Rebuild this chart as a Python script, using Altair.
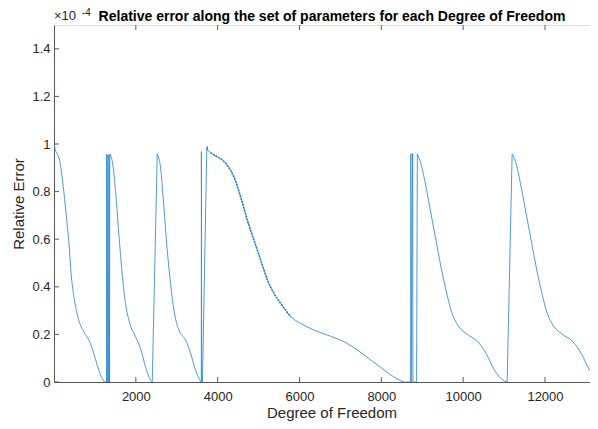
import altair as alt
import pandas as pd

# ---- data (relative error in units of 1e-4) ----
# smooth decaying branches
seg1_dof = [1, 15, 30, 60, 115, 160, 198, 240, 279, 320, 360, 418, 500, 605, 727, 891, 972, 1094, 1201, 1241]
seg1_err = [0.975, 0.99, 0.975, 0.965, 0.945, 0.91, 0.861, 0.80, 0.735, 0.665, 0.595, 0.456, 0.344, 0.26, 0.211, 0.162, 0.12, 0.05, 0.008, 0.0]

seg2_dof = [1364, 1421, 1503, 1584, 1666, 1748, 1853, 1993, 2115, 2237, 2360, 2401]
seg2_err = [0.958, 0.93, 0.805, 0.623, 0.456, 0.33, 0.246, 0.19, 0.141, 0.064, 0.008, 0.0]

seg3_dof = [2523, 2605, 2686, 2768, 2849, 2931, 3053, 3217, 3339, 3461, 3567, 3600]
seg3_err = [0.958, 0.90, 0.735, 0.553, 0.414, 0.302, 0.218, 0.176, 0.12, 0.05, 0.008, 0.0]

seg4_dof = [3760, 3829, 3950, 4073, 4237, 4399, 4563, 4727, 4889, 5053, 5217, 5378, 5542, 5787,
            6032, 6357, 6686, 7092, 7420, 7745, 8071, 8316, 8480, 8560]
seg4_err = [0.972, 0.963, 0.95, 0.938, 0.91, 0.861, 0.777, 0.679, 0.595, 0.512, 0.428, 0.372, 0.33, 0.274,
            0.246, 0.218, 0.197, 0.169, 0.134, 0.092, 0.05, 0.02, 0.005, 0.0]

seg5_dof = [8880, 8969, 9092, 9214, 9336, 9459, 9581, 9703, 9868, 10071, 10357, 10561, 10764, 10969, 11075]
seg5_err = [0.958, 0.917, 0.819, 0.707, 0.595, 0.483, 0.386, 0.302, 0.239, 0.204, 0.169, 0.12, 0.05, 0.008, 0.0]

seg6_dof = [11197, 11295, 11417, 11540, 11662, 11784, 11907, 12029, 12193, 12397, 12683, 12886, 13089, 13295, 13327]
seg6_err = [0.958, 0.917, 0.819, 0.707, 0.595, 0.483, 0.386, 0.302, 0.239, 0.204, 0.169, 0.12, 0.05, 0.016, 0.012]

# jumps between branches
jump1_dof = [1241, 1283, 1285, 1300, 1318, 1330, 1348, 1358, 1364]
jump1_err = [0.0, 0.0, 0.958, 0.0, 0.955, 0.0, 0.955, 0.0, 0.958]
jump2_dof = [2401, 2523]
jump2_err = [0.0, 0.958]
jump3_dof = [3600, 3603, 3610, 3628, 3735, 3742, 3748, 3760]
jump3_err = [0.0, 0.968, 0.0, 0.0, 0.985, 0.975, 0.99, 0.972]
jump4_dof = [8560, 8720, 8722, 8728, 8766, 8772, 8862, 8880]
jump4_err = [0.0, 0.0, 0.96, 0.0, 0.96, 0.0, 0.0, 0.958]
jump5_dof = [11075, 11197]
jump5_err = [0.0, 0.958]

x_ticks = [2000, 4000, 6000, 8000, 10000, 12000]
y_ticks = [0, 0.2, 0.4, 0.6, 0.8, 1.0, 1.2, 1.4]

title_text = "Relative error along the set of parameters for each Degree of Freedom"

# ---- tables ----
def build(parts):
    rows = []
    for g, (xs, ys) in enumerate(parts):
        for i, (a, b) in enumerate(zip(xs, ys)):
            rows.append({"grp": g, "i": i, "dof": a, "err": b})
    return pd.DataFrame(rows)

curves = build([(seg1_dof, seg1_err), (seg2_dof, seg2_err), (seg3_dof, seg3_err),
                (seg4_dof, seg4_err), (seg5_dof, seg5_err), (seg6_dof, seg6_err)])
jumps = build([(jump1_dof, jump1_err), (jump2_dof, jump2_err), (jump3_dof, jump3_err),
               (jump4_dof, jump4_err), (jump5_dof, jump5_err)])
xt = pd.DataFrame({"dof": x_ticks})
yt = pd.DataFrame({"err": y_ticks})

FONT = "Liberation Sans"
AX = "#595959"
TXT = "#262626"
LINE = "#3a8fd2"
W, H = 536, 357

xscale = alt.Scale(domain=[0, 13100], nice=False, zero=False)
yscale = alt.Scale(domain=[0, 1.5], nice=False)

x_enc = alt.X("dof:Q", scale=xscale, axis=alt.Axis(
    values=x_ticks, format="d", tickSize=0, labelPadding=8, grid=False,
    domainColor=AX, labelColor=TXT, labelFont=FONT, labelFontSize=13,
    title="Degree of Freedom", titleFont=FONT, titleFontSize=15, titleFontWeight="normal",
    titleColor=TXT, titleX=277.5, titleY=35, titleBaseline="alphabetic", titleAlign="center"))
y_enc = alt.Y("err:Q", scale=yscale, axis=alt.Axis(
    values=y_ticks, format="~g", tickSize=0, labelPadding=4, grid=False,
    domainColor=AX, labelColor=TXT, labelFont=FONT, labelFontSize=13,
    title="Relative Error", titleFont=FONT, titleFontSize=15, titleFontWeight="normal",
    titleColor=TXT, titleX=-31, titleY=178.5, titleAngle=270, titleBaseline="alphabetic",
    titleAlign="center"))

x_plain = alt.X("dof:Q", scale=xscale)
y_plain = alt.Y("err:Q", scale=yscale)

curve_layer = alt.Chart(curves).mark_line(interpolate="monotone", color=LINE, strokeWidth=0.9, clip=True).encode(
    x=x_enc, y=y_enc, detail="grp:N", order="i:Q")
dotted_layer = alt.Chart(curves).transform_filter(
    (alt.datum.grp == 3) & (alt.datum.dof >= 3829) & (alt.datum.dof <= 5787)
).mark_line(interpolate="monotone", color="#1f78c4", strokeWidth=1.6, strokeDash=[1.5, 1.5], clip=True).encode(
    x=x_plain, y=y_plain, detail="grp:N", order="i:Q")
jump_layer = alt.Chart(jumps).mark_line(interpolate="linear", color=LINE, strokeWidth=0.9, clip=True).encode(
    x=x_plain, y=y_plain, detail="grp:N", order="i:Q")

bottom_ticks = alt.Chart(xt).mark_rule(color=AX, strokeWidth=1).encode(
    x=x_plain, y=alt.value(H), y2=alt.value(H - 5))
top_ticks = alt.Chart(xt).mark_rule(color=AX, strokeWidth=1).encode(
    x=x_plain, y=alt.value(0), y2=alt.value(5))
left_ticks = alt.Chart(yt).mark_rule(color=AX, strokeWidth=1).encode(
    y=y_plain, x=alt.value(0), x2=alt.value(5))

exp_base = alt.Chart(pd.DataFrame({"s": ["\u00d710"]})).mark_text(
    align="left", baseline="alphabetic", font=FONT, fontSize=13, color=TXT).encode(
    text="s:N", x=alt.value(0), y=alt.value(-5))
exp_pow = alt.Chart(pd.DataFrame({"s": ["-4"]})).mark_text(
    align="left", baseline="alphabetic", font=FONT, fontSize=10, color=TXT).encode(
    text="s:N", x=alt.value(28), y=alt.value(-9))
title_mark = alt.Chart(pd.DataFrame({"s": [title_text]})).mark_text(
    align="center", baseline="alphabetic", font=FONT, fontSize=14, fontWeight="bold", color="#000000").encode(
    text="s:N", x=alt.value(278), y=alt.value(-4))

chart = alt.layer(curve_layer, dotted_layer, jump_layer, bottom_ticks, top_ticks, left_ticks,
                  exp_base, exp_pow, title_mark).properties(
    width=W, height=H,
    autosize=alt.AutoSizeParams(type="none"),
    padding={"left": 46, "top": 17, "right": 0, "bottom": 39},
).configure_view(stroke=AX, strokeWidth=1).configure(background="white")

chart.save("out.html", embed_options={"renderer": "svg", "actions": False})
